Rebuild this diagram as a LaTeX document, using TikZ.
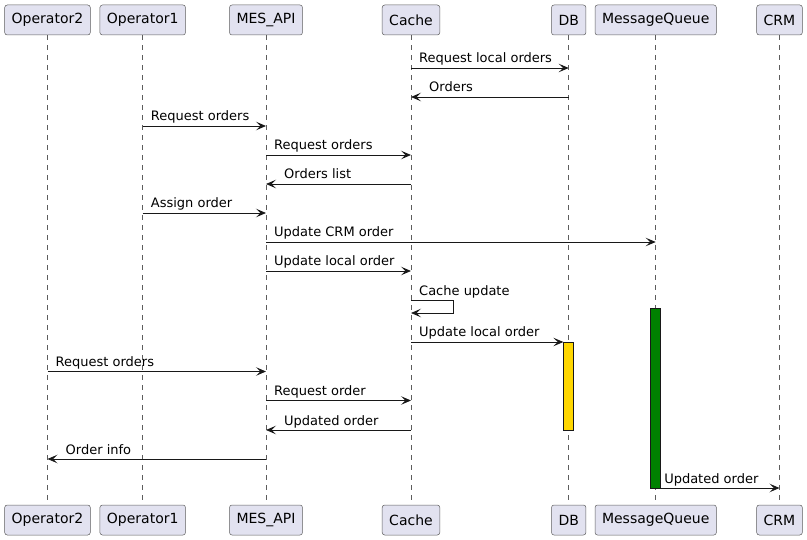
\documentclass[tikz,border=0pt]{standalone}
\usepackage{fontspec}
\setmainfont{DejaVu Sans}
\usetikzlibrary{arrows.meta}
\definecolor{partfill}{HTML}{E2E2F0}
\definecolor{partline}{HTML}{181818}
\definecolor{actyellow}{HTML}{FFD700}
\definecolor{actgreen}{HTML}{008000}

\begin{document}
\begin{tikzpicture}[x=1pt, y=-1pt,
    participant/.style = {draw=partline!70, fill=partfill, rounded corners=2.5pt,
        minimum height=30pt, inner xsep=7pt, line width=0.5pt,
        font=\fontsize{14}{16}\selectfont},
    lifeline/.style = {draw=partline!70, line width=0.5pt, dash pattern=on 5pt off 5pt},
    actbar/.style = {draw=partline, minimum width=10pt, inner sep=0pt, line width=0.7pt},
    msg/.style = {draw=partline, line width=0.8pt,
        -{Stealth[length=10pt, width=8.5pt, inset=4.5pt]}},
    lbl/.style = {anchor=base west, inner sep=0pt, font=\fontsize{13}{15}\selectfont}]

    \useasboundingbox (0,0) rectangle (807,540);

    \node [participant] (op2) at (47.5,20) {Operator2};
    \node [participant] (op1) at (142.7,20) {Operator1};
    \node [participant] (api) at (266,20) {MES\_API};
    \node [participant] (cache) at (411,20) {Cache};
    \node [participant] (db) at (568.7,20) {DB};
    \node [participant] (mq) at (655.7,20) {MessageQueue};
    \node [participant] (crm) at (779.5,20) {CRM};

    \node [participant] (op2b) at (47.5,520) {Operator2};
    \node [participant] (op1b) at (142.7,520) {Operator1};
    \node [participant] (apib) at (266,520) {MES\_API};
    \node [participant] (cacheb) at (411,520) {Cache};
    \node [participant] (dbb) at (568.7,520) {DB};
    \node [participant] (mqb) at (655.7,520) {MessageQueue};
    \node [participant] (crmb) at (779.5,520) {CRM};

    \draw [lifeline] (op2.south) -- (op2b.north);
    \draw [lifeline] (op1.south) -- (op1b.north);
    \draw [lifeline] (api.south) -- (apib.north);
    \draw [lifeline] (cache.south) -- (cacheb.north);
    \draw [lifeline] (db.south) -- (dbb.north);
    \draw [lifeline] (mq.south) -- (mqb.north);
    \draw [lifeline] (crm.south) -- (crmb.north);

    \node [actbar, fill=actyellow, minimum height=88pt] (dbact) at (568.7,386) {};
    \node [actbar, fill=actgreen, minimum height=180pt] (mqact) at (655.7,398) {};

    \coordinate (m1) at (0,68);
    \coordinate (m2) at (0,97);
    \coordinate (m3) at (0,126);
    \coordinate (m4) at (0,155);
    \coordinate (m5) at (0,184);
    \coordinate (m6) at (0,213);
    \coordinate (m7) at (0,242);
    \coordinate (m8) at (0,271);
    \coordinate (m9) at (0,300.5);
    \coordinate (m9b) at (0,313);
    \coordinate (m10) at (0,342);
    \coordinate (m11) at (0,371.5);
    \coordinate (m12) at (0,400.5);
    \coordinate (m13) at (0,430);
    \coordinate (m14) at (0,459);
    \coordinate (m15) at (0,488);

    \draw [msg] (cache |- m1) -- (db |- m1);
    \node [lbl] (t1) at ([xshift=8pt, yshift=5pt]cache |- m1) {Request local orders};

    \draw [msg] (db |- m2) -- (cache |- m2);
    \node [lbl] (t2) at ([xshift=18pt, yshift=5pt]cache |- m2) {Orders};

    \draw [msg] (op1 |- m3) -- (api |- m3);
    \node [lbl] (t3) at ([xshift=8pt, yshift=5pt]op1 |- m3) {Request orders};

    \draw [msg] (api |- m4) -- (cache |- m4);
    \node [lbl] (t4) at ([xshift=8pt, yshift=5pt]api |- m4) {Request orders};

    \draw [msg] (cache |- m5) -- (api |- m5);
    \node [lbl] (t5) at ([xshift=18pt, yshift=5pt]api |- m5) {Orders list};

    \draw [msg] (op1 |- m6) -- (api |- m6);
    \node [lbl] (t6) at ([xshift=8pt, yshift=5pt]op1 |- m6) {Assign order};

    \draw [msg] (api |- m7) -- (mq |- m7);
    \node [lbl] (t7) at ([xshift=8pt, yshift=5pt]api |- m7) {Update CRM order};

    \draw [msg] (api |- m8) -- (cache |- m8);
    \node [lbl] (t8) at ([xshift=8pt, yshift=5pt]api |- m8) {Update local order};

    \draw [msg] (cache |- m9) -- ++(42,0) |- (cache |- m9b);
    \node [lbl] (t9) at ([xshift=8pt, yshift=5pt]cache |- m9) {Cache update};

    \draw [msg] (cache |- m10) -- (dbact.west |- m10);
    \node [lbl] (t10) at ([xshift=8pt, yshift=5pt]cache |- m10) {Update local order};

    \draw [msg] (op2 |- m11) -- (api |- m11);
    \node [lbl] (t11) at ([xshift=8pt, yshift=5pt]op2 |- m11) {Request orders};

    \draw [msg] (api |- m12) -- (cache |- m12);
    \node [lbl] (t12) at ([xshift=8pt, yshift=5pt]api |- m12) {Request order};

    \draw [msg] (cache |- m13) -- (api |- m13);
    \node [lbl] (t13) at ([xshift=18pt, yshift=5pt]api |- m13) {Updated order};

    \draw [msg] (api |- m14) -- (op2 |- m14);
    \node [lbl] (t14) at ([xshift=18pt, yshift=5pt]op2 |- m14) {Order info};

    \draw [msg] (mqact.east |- m15) -- (crm |- m15);
    \node [lbl] (t15) at ([xshift=3pt, yshift=5pt]mqact.east |- m15) {Updated order};
\end{tikzpicture}
\end{document}
